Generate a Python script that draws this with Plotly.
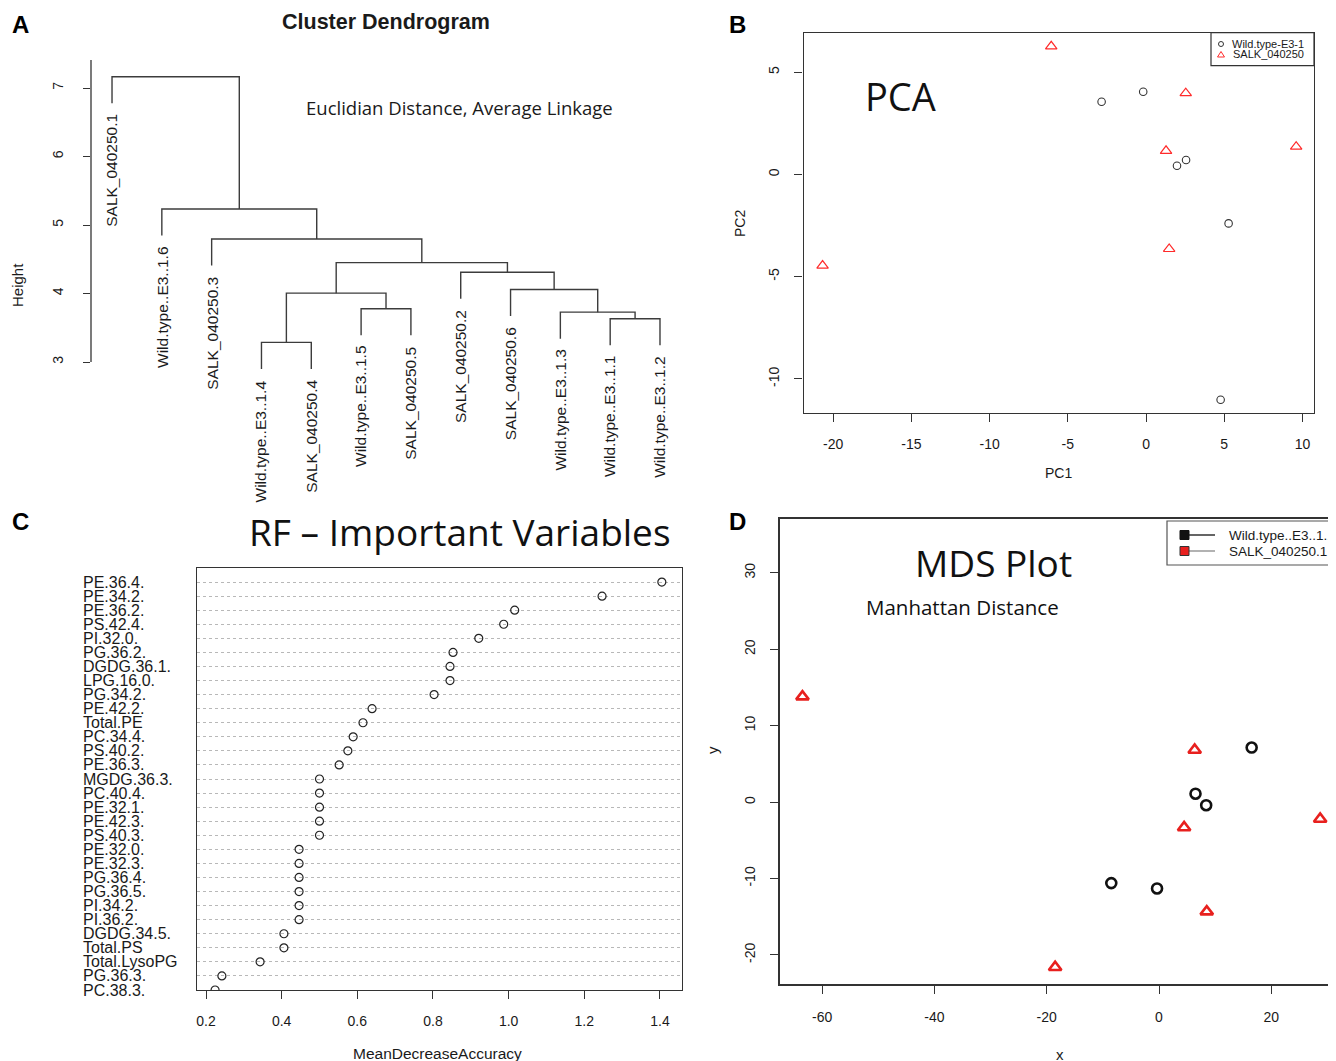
import plotly.graph_objects as go

OFF = 8  # page body margin offset
W, H = 1336 - OFF, 1061 - OFF
def px(x): return (x - OFF) / W
def py(y): return 1 - (y - OFF) / H

RFONT = "Liberation Sans"
CFONT = "Open Sans"
TXT = "#1a1a1a"

# ---------------- Panel A: dendrogram data ----------------
leaf_labels = ["SALK_040250.1", "Wild.type..E3..1.6", "SALK_040250.3",
               "Wild.type..E3..1.4", "SALK_040250.4", "Wild.type..E3..1.5",
               "SALK_040250.5", "SALK_040250.2", "SALK_040250.6",
               "Wild.type..E3..1.3", "Wild.type..E3..1.1", "Wild.type..E3..1.2"]
# R hclust-style merge table (negative = leaf position, positive = earlier merge)
merge_left = [-4, -11, -10, -6, 1, -9, -8, 5, -3, -2, -1]
merge_right = [-5, -12, 2, -7, 4, 3, 6, 7, 8, 9, 10]
merge_height = [3.286, 3.631, 3.728, 3.777, 4.005, 4.058, 4.311, 4.451, 4.796, 5.233, 7.165]
height_ticks = [3, 4, 5, 6, 7]

# ---------------- Panel B: PCA ----------------
pca_wt_pc1 = [-2.84, -0.18, 2.56, 1.98, 5.28, 4.77]
pca_wt_pc2 = [3.55, 4.04, 0.70, 0.42, -2.40, -11.02]
pca_salk_pc1 = [-6.06, 2.54, 1.28, 9.60, 1.48, -20.68]
pca_salk_pc2 = [6.26, 3.97, 1.15, 1.35, -3.65, -4.46]
pca_xticks = [-20, -15, -10, -5, 0, 5, 10]
pca_yticks = [-10, -5, 0, 5]

# ---------------- Panel C: RF importance ----------------
rf_vars = ["PE.36.4.", "PE.34.2.", "PE.36.2.", "PS.42.4.", "PI.32.0.", "PG.36.2.",
           "DGDG.36.1.", "LPG.16.0.", "PG.34.2.", "PE.42.2.", "Total.PE", "PC.34.4.",
           "PS.40.2.", "PE.36.3.", "MGDG.36.3.", "PC.40.4.", "PE.32.1.", "PE.42.3.",
           "PS.40.3.", "PE.32.0.", "PE.32.3.", "PG.36.4.", "PG.36.5.", "PI.34.2.",
           "PI.36.2.", "DGDG.34.5.", "Total.PS", "Total.LysoPG", "PG.36.3.", "PC.38.3."]
rf_mda = [1.405, 1.247, 1.016, 0.987, 0.921, 0.853, 0.845, 0.845, 0.803, 0.639,
          0.615, 0.589, 0.575, 0.552, 0.500, 0.500, 0.500, 0.500, 0.500, 0.446,
          0.446, 0.446, 0.446, 0.446, 0.446, 0.406, 0.406, 0.343, 0.242, 0.224]
rf_xticks = [0.2, 0.4, 0.6, 0.8, 1.0, 1.2, 1.4]

# ---------------- Panel D: MDS ----------------
mds_wt_x = [16.5, 6.5, 8.4, -8.5, -0.35]
mds_wt_y = [7.14, 1.10, -0.41, -10.6, -11.3]
mds_salk_x = [-63.5, 6.35, 4.47, 28.7, 8.5, -18.5]
mds_salk_y = [13.8, 6.82, -3.32, -2.21, -14.33, -21.6]
mds_xticks = [-60, -40, -20, 0, 20]
mds_yticks = [-20, -10, 0, 10, 20, 30]

def rlab(vals):
    # R-style labels with ASCII hyphen-minus
    return [str(v) for v in vals]

fig = go.Figure()

# ---- dendrogram geometry from merge table ----
hang = 0.1 * (max(merge_height) - min(merge_height))
node_x = {}
leaf_bottom = [None] * len(leaf_labels)
def child(c, parent_h):
    if c < 0:
        i = -c
        leaf_bottom[i - 1] = parent_h - hang
        return float(i), parent_h - hang
    return node_x[c], merge_height[c - 1]

dx, dy = [], []
for k, (l, r) in enumerate(zip(merge_left, merge_right), start=1):
    h = merge_height[k - 1]
    xl, hl = child(l, h)
    xr, hr = child(r, h)
    dx += [xl, xl, xr, xr, None]
    dy += [hl, h, h, hr, None]
    node_x[k] = (xl + xr) / 2

fig.add_trace(go.Scatter(x=dx, y=dy, mode="lines", line=dict(color="#3c3c3c", width=1.4),
                         xaxis="x", yaxis="y", showlegend=False, hoverinfo="skip"))

# ---- PCA ----
fig.add_trace(go.Scatter(x=pca_wt_pc1, y=pca_wt_pc2, mode="markers", xaxis="x2", yaxis="y2",
                         marker=dict(symbol="circle-open", size=7.5, color="#333333", line=dict(width=1.1)),
                         showlegend=False))
fig.add_trace(go.Scatter(x=pca_salk_pc1, y=pca_salk_pc2, mode="markers", xaxis="x2", yaxis="y2",
                         marker=dict(symbol="triangle-up-open", size=10, color="#ff2a2a", line=dict(width=1.2)),
                         showlegend=False))

# ---- RF ----
rows = list(range(1, len(rf_vars) + 1))
fig.add_trace(go.Scatter(x=rf_mda, y=rows, mode="markers", xaxis="x3", yaxis="y3",
                         marker=dict(symbol="circle-open", size=8, color="#222222", line=dict(width=1.2)),
                         showlegend=False))

# ---- MDS ----
fig.add_trace(go.Scatter(x=mds_wt_x, y=mds_wt_y, mode="markers", xaxis="x4", yaxis="y4",
                         marker=dict(symbol="circle-open", size=10, color="#111111", line=dict(width=2.6)),
                         showlegend=False))
fig.add_trace(go.Scatter(x=mds_salk_x, y=mds_salk_y, mode="markers", xaxis="x4", yaxis="y4",
                         marker=dict(symbol="triangle-up-open", size=11, color="#e8201e", line=dict(width=2.6)),
                         showlegend=False))

tickfont = dict(family=RFONT, size=14, color=TXT)
common = dict(showgrid=False, zeroline=False, ticks="outside", tickcolor="#333",
              linecolor="#333", tickfont=tickfont)

layout = dict(
    width=W, height=H, margin=dict(l=0, r=0, t=0, b=0),
    paper_bgcolor="white", plot_bgcolor="white", showlegend=False,
    # A
    xaxis=dict(domain=[px(91), px(684.9)], range=[0.578, 12.5], visible=False, anchor="y"),
    yaxis=dict(domain=[py(396.25), py(53.75)], range=[2.5, 7.5], anchor="x", tickvals=height_ticks,
               ticktext=rlab(height_ticks), tickangle=-90, ticklen=7, ticklabelstandoff=14,
               showline=False, **common),
    # B
    xaxis2=dict(domain=[px(803.5), px(1314)], range=[-21.9, 10.74], anchor="y2", tickvals=pca_xticks,
                ticktext=rlab(pca_xticks), ticklen=8, ticklabelstandoff=10,
                showline=True, mirror=True, linewidth=1.3, **common),
    yaxis2=dict(domain=[py(413), py(32.6)], range=[-11.67, 6.93], anchor="x2", tickvals=pca_yticks,
                ticktext=rlab(pca_yticks), tickangle=-90, ticklen=8, ticklabelstandoff=10,
                showline=True, mirror=True, linewidth=1.3, **common),
    # C
    xaxis3=dict(domain=[px(197), px(682)], range=[0.1762, 1.4583], anchor="y3", tickvals=rf_xticks,
                ticktext=[f"{v:.1f}" for v in rf_xticks], ticklen=8, ticklabelstandoff=10,
                showline=True, mirror=True, linewidth=1.3, **common),
    yaxis3=dict(domain=[py(990), py(568)], range=[30, 0], anchor="x3", tickvals=rows,
                showticklabels=False, ticks="", showgrid=True, griddash="dot", gridcolor="#b8b8b8",
                gridwidth=1, zeroline=False, showline=True, mirror=True, linecolor="#333", linewidth=1.3),
    # D
    xaxis4=dict(domain=[px(780), 1.0], range=[-67.5, 31.52], anchor="y4", tickvals=mds_xticks,
                ticktext=rlab(mds_xticks), ticklen=8, ticklabelstandoff=11,
                showline=True, mirror=True, linewidth=1.6, **common),
    yaxis4=dict(domain=[py(984), py(519)], range=[-23.8, 37.04], anchor="x4", tickvals=mds_yticks,
                ticktext=rlab(mds_yticks), tickangle=-90, ticklen=8, ticklabelstandoff=10,
                showline=True, mirror=False, linewidth=1.6, **common),
)
fig.update_layout(**layout)

anns = []
def ann(text, x, y, size, family=RFONT, angle=0, xanchor="center", yanchor="middle", color=TXT,
        xref="paper", yref="paper", yshift=0):
    anns.append(dict(text=text, x=x, y=y, xref=xref, yref=yref, showarrow=False, textangle=angle,
                     xanchor=xanchor, yanchor=yanchor, yshift=yshift,
                     font=dict(family=family, size=size, color=color)))

# panel letters
for letter, (lx, ly) in zip("ABCD", [(20, 24), (737, 24), (20, 521), (737, 521)]):
    ann(f"<b>{letter}</b>", px(lx), py(ly), 24, family="Liberation Sans", color="#000")

# Panel A texts
ann("<b>Cluster Dendrogram</b>", px(386), py(22), 21.5)
ann("Euclidian Distance, Average Linkage", px(459), py(107), 18.5, family=CFONT)
ann("Height", px(17), py(285), 15, angle=-90)
for i, lab in enumerate(leaf_labels):
    ann(lab, i + 1, leaf_bottom[i], 15.5, angle=-90, xanchor="center", yanchor="top",
        xref="x", yref="y", yshift=-9)

# Panel B texts
ann("PCA", px(900), py(96), 38, family=CFONT, color="#111")
ann("PC1", px(1058), py(473), 14)
ann("PC2", px(740), py(224), 14, angle=-90)
ann("Wild.type-E3-1", px(1230), py(44), 11, xanchor="left")
ann("SALK_040250", px(1231), py(54.5), 11, xanchor="left")

# Panel C texts
ann("RF \u2013 Important Variables", px(460), py(531), 37, family=CFONT, color="#111")
ann("MeanDecreaseAccuracy", px(438), py(1053), 15.5)
for r, lab in zip(rows, rf_vars):
    ann(lab, px(81), r, 16, xanchor="left", yref="y3")

# Panel D texts
ann("MDS Plot", px(993), py(562), 37, family=CFONT, color="#111")
ann("Manhattan Distance", px(963), py(607), 20.5, family=CFONT, color="#111")
ann("x", px(1060), py(1054), 15)
ann("y", px(712), py(750), 15, angle=-90)
ann("Wild.type..E3..1.1", px(1227), py(535), 13.5, xanchor="left")
ann("SALK_040250.1", px(1227), py(551), 13.5, xanchor="left")

fig.update_layout(annotations=anns)

shapes = []
# dendrogram height axis line
shapes.append(dict(type="line", xref="x domain", yref="y", x0=0, x1=0, y0=3, y1=7.41,
                   line=dict(color="#333", width=1.3)))
# PCA legend box
shapes.append(dict(type="rect", xref="paper", yref="paper", x0=px(1211), x1=px(1314), y0=py(65.7), y1=py(32.6),
                   line=dict(color="#333", width=1.2), fillcolor="white", layer="below"))
shapes.append(dict(type="circle", xref="paper", yref="paper", x0=px(1218.5), x1=px(1223.5), y0=py(46.5), y1=py(41.5),
                   line=dict(color="#333", width=1)))
tri = f"M {px(1221)},{py(51.5)} L {px(1224.5)},{py(57)} L {px(1217.5)},{py(57)} Z"
shapes.append(dict(type="path", xref="paper", yref="paper", path=tri, line=dict(color="#ff2a2a", width=1)))
# MDS legend box
shapes.append(dict(type="rect", xref="paper", yref="paper", x0=px(1167), x1=px(1345), y0=py(565), y1=py(521),
                   line=dict(color="#555", width=1.2), fillcolor="white"))
shapes.append(dict(type="line", xref="paper", yref="paper", x0=px(1185), x1=px(1215), y0=py(535), y1=py(535),
                   line=dict(color="#111", width=1.3)))
shapes.append(dict(type="line", xref="paper", yref="paper", x0=px(1185), x1=px(1215), y0=py(551), y1=py(551),
                   line=dict(color="#888", width=1.3)))
shapes.append(dict(type="rect", xref="paper", yref="paper", x0=px(1180), x1=px(1189), y0=py(539.5), y1=py(530.5),
                   line=dict(color="#111", width=1), fillcolor="#111"))
shapes.append(dict(type="rect", xref="paper", yref="paper", x0=px(1180), x1=px(1189), y0=py(555.5), y1=py(546.5),
                   line=dict(color="#333", width=1), fillcolor="#e8201e"))
fig.update_layout(shapes=shapes)

fig.write_html("out.html")
